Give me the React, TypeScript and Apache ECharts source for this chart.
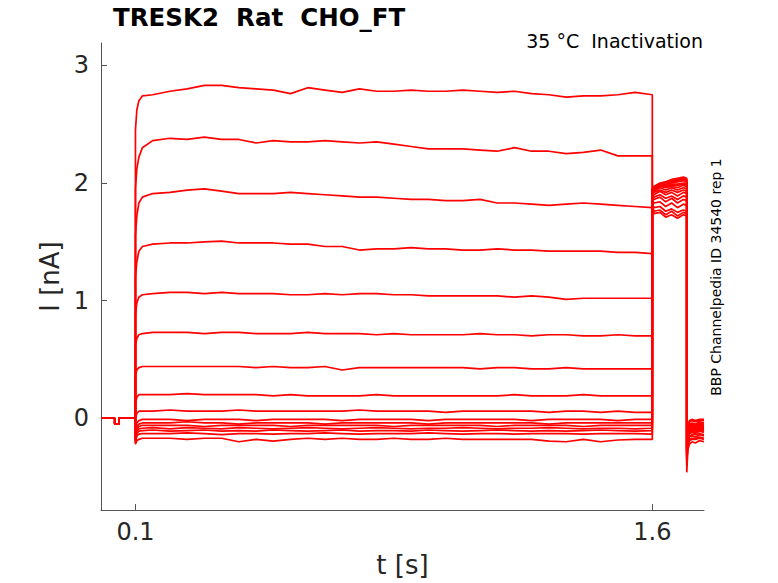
import React, { useEffect, useRef } from "react";
import * as echarts from "echarts";

// holding segment (shared by every sweep)
const HOLD_T = [0, 0.04, 0.04, 0.052, 0.052, 0.1];
const HOLD_I = [0, 0, -0.05, -0.05, 0, 0];

// prepulse segment, 0.1 s .. 1.6 s
const PRE_T = [
  0.1, 0.104, 0.11, 0.12, 0.15, 0.2, 0.25, 0.3, 0.35, 0.4, 0.45, 0.5, 0.55, 0.6, 0.65, 0.7, 0.75,
  0.8, 0.85, 0.9, 0.95, 1.0, 1.05, 1.1, 1.15, 1.2, 1.25, 1.3, 1.35, 1.4, 1.45, 1.5, 1.55, 1.6,
];
const PRE_I = [
  [2.45, 2.62, 2.7, 2.74,
    2.75, 2.78, 2.8, 2.83, 2.83, 2.81, 2.8, 2.79, 2.76, 2.81,
    2.79, 2.77, 2.8, 2.78, 2.78, 2.79, 2.78, 2.78, 2.79, 2.78,
    2.77, 2.78, 2.76, 2.75, 2.73, 2.74, 2.74, 2.75, 2.77, 2.75],
  [1.95, 2.12, 2.22, 2.3,
    2.36, 2.38, 2.37, 2.39, 2.37, 2.37, 2.34, 2.36, 2.35, 2.35,
    2.36, 2.35, 2.34, 2.35, 2.33, 2.31, 2.29, 2.29, 2.29, 2.28,
    2.27, 2.3, 2.27, 2.27, 2.25, 2.26, 2.28, 2.23, 2.23, 2.23],
  [1.55, 1.72, 1.83, 1.88,
    1.91, 1.92, 1.94, 1.95, 1.93, 1.91, 1.91, 1.91, 1.92, 1.91,
    1.9, 1.89, 1.88, 1.88, 1.87, 1.86, 1.86, 1.85, 1.85, 1.86,
    1.83, 1.83, 1.82, 1.81, 1.82, 1.83, 1.82, 1.81, 1.8, 1.79],
  [1.2, 1.33, 1.42, 1.46,
    1.48, 1.49, 1.49, 1.5, 1.505, 1.49, 1.49, 1.49, 1.48, 1.48,
    1.46, 1.46, 1.43, 1.44, 1.44, 1.45, 1.44, 1.44, 1.43, 1.43,
    1.44, 1.43, 1.43, 1.42, 1.42, 1.42, 1.42, 1.41, 1.41, 1.4],
  [0.88, 0.98, 1.03, 1.05,
    1.06, 1.07, 1.07, 1.06, 1.07, 1.06, 1.06, 1.06, 1.05, 1.05,
    1.06, 1.05, 1.06, 1.06, 1.05, 1.05, 1.04, 1.04, 1.04, 1.04,
    1.04, 1.03, 1.04, 1.03, 1.01, 1.02, 1.02, 1.02, 1.02, 1.02],
  [0.62, 0.68, 0.71, 0.72,
    0.73, 0.73, 0.73, 0.72, 0.73, 0.73, 0.72, 0.72, 0.72, 0.73,
    0.72, 0.72, 0.72, 0.71, 0.72, 0.71, 0.71, 0.71, 0.71, 0.72,
    0.71, 0.71, 0.7, 0.71, 0.71, 0.7, 0.7, 0.71, 0.7, 0.7],
  [0.36, 0.41, 0.43, 0.44,
    0.44, 0.44, 0.44, 0.44, 0.44, 0.44, 0.43, 0.44, 0.43, 0.43,
    0.44, 0.41, 0.43, 0.43, 0.43, 0.43, 0.43, 0.43, 0.43, 0.42,
    0.43, 0.43, 0.42, 0.42, 0.43, 0.42, 0.42, 0.42, 0.42, 0.42],
  [0.12, 0.18, 0.2, 0.2,
    0.2, 0.2, 0.21, 0.2, 0.2, 0.2, 0.2, 0.19, 0.2, 0.19,
    0.19, 0.19, 0.19, 0.2, 0.19, 0.19, 0.19, 0.19, 0.19, 0.19,
    0.19, 0.2, 0.19, 0.19, 0.19, 0.2, 0.19, 0.19, 0.19, 0.19],
  [0.0, 0.04, 0.06, 0.06,
    0.06, 0.07, 0.06, 0.06, 0.06, 0.07, 0.06, 0.06, 0.06, 0.06,
    0.06, 0.06, 0.07, 0.06, 0.06, 0.06, 0.06, 0.05, 0.06, 0.06,
    0.06, 0.06, 0.06, 0.05, 0.06, 0.06, 0.05, 0.06, 0.05, 0.05],
  [-0.14, -0.04, -0.02, -0.01,
    -0.01, -0.01, -0.02, -0.01, -0.01, -0.01, -0.02, -0.01, -0.01, -0.01,
    -0.01, -0.02, -0.01, -0.01, -0.01, -0.01, -0.02, -0.01, -0.01, -0.01,
    -0.01, -0.01, -0.02, -0.01, -0.01, -0.01, -0.01, -0.02, -0.01, -0.01],
  [-0.16, -0.07, -0.05, -0.04,
    -0.04, -0.04, -0.03, -0.04, -0.04, -0.05, -0.04, -0.04, -0.04, -0.04,
    -0.05, -0.04, -0.04, -0.04, -0.04, -0.04, -0.05, -0.04, -0.04, -0.04,
    -0.04, -0.04, -0.04, -0.05, -0.04, -0.04, -0.04, -0.04, -0.04, -0.04],
  [-0.18, -0.09, -0.07, -0.06,
    -0.06, -0.06, -0.06, -0.07, -0.06, -0.06, -0.06, -0.06, -0.07, -0.06,
    -0.06, -0.06, -0.06, -0.06, -0.07, -0.06, -0.06, -0.06, -0.06, -0.06,
    -0.07, -0.06, -0.06, -0.06, -0.06, -0.07, -0.06, -0.06, -0.06, -0.06],
  [-0.19, -0.11, -0.09, -0.085,
    -0.08, -0.09, -0.08, -0.085, -0.09, -0.08, -0.085, -0.09, -0.085, -0.08,
    -0.085, -0.09, -0.085, -0.08, -0.085, -0.09, -0.085, -0.085, -0.08, -0.085,
    -0.09, -0.085, -0.085, -0.08, -0.085, -0.09, -0.085, -0.085, -0.09, -0.085],
  [-0.2, -0.13, -0.11, -0.105,
    -0.1, -0.11, -0.105, -0.1, -0.11, -0.105, -0.11, -0.1, -0.105, -0.11,
    -0.105, -0.1, -0.11, -0.105, -0.105, -0.11, -0.1, -0.105, -0.11, -0.105,
    -0.1, -0.105, -0.11, -0.105, -0.11, -0.105, -0.1, -0.105, -0.11, -0.105],
  [-0.21, -0.15, -0.135, -0.13,
    -0.13, -0.13, -0.125, -0.13, -0.14, -0.13, -0.13, -0.135, -0.13, -0.13,
    -0.125, -0.13, -0.135, -0.13, -0.13, -0.13, -0.125, -0.13, -0.135, -0.13,
    -0.13, -0.135, -0.13, -0.13, -0.13, -0.135, -0.13, -0.13, -0.13, -0.135],
  [-0.22, -0.19, -0.18, -0.17,
    -0.17, -0.17, -0.18, -0.17, -0.17, -0.2, -0.18, -0.195, -0.18, -0.17,
    -0.18, -0.17, -0.18, -0.18, -0.17, -0.18, -0.18, -0.17, -0.18, -0.18,
    -0.18, -0.18, -0.18, -0.195, -0.2, -0.18, -0.2, -0.185, -0.18, -0.18],
];

// test pulse, 1.6 s .. 1.7 s
const TEST_T = [1.6, 1.605, 1.622, 1.639, 1.656, 1.673, 1.69, 1.7];
const TEST_I = [
  [1.78, 1.74, 1.75, 1.71, 1.73, 1.7, 1.73, 1.72],
  [1.8, 1.76, 1.77, 1.73, 1.76, 1.72, 1.75, 1.74],
  [1.82, 1.79, 1.8, 1.76, 1.78, 1.75, 1.77, 1.76],
  [1.85, 1.83, 1.84, 1.8, 1.83, 1.79, 1.82, 1.81],
  [1.87, 1.86, 1.88, 1.84, 1.87, 1.83, 1.86, 1.85],
  [1.89, 1.88, 1.9, 1.87, 1.89, 1.86, 1.89, 1.88],
  [1.9, 1.9, 1.93, 1.9, 1.92, 1.89, 1.92, 1.91],
  [1.91, 1.92, 1.94, 1.92, 1.94, 1.92, 1.94, 1.93],
  [1.92, 1.93, 1.96, 1.94, 1.96, 1.94, 1.96, 1.95],
  [1.92, 1.94, 1.97, 1.96, 1.97, 1.96, 1.98, 1.97],
  [1.93, 1.95, 1.97, 1.97, 1.98, 1.98, 1.99, 1.99],
  [1.93, 1.95, 1.98, 1.98, 1.99, 1.99, 2.0, 2.0],
  [1.94, 1.96, 1.98, 1.99, 2.0, 2.01, 2.02, 2.01],
  [1.94, 1.96, 1.99, 2.0, 2.01, 2.02, 2.03, 2.02],
  [1.95, 1.97, 1.99, 2.01, 2.02, 2.03, 2.04, 2.03],
  [1.95, 1.97, 2.0, 2.01, 2.03, 2.04, 2.05, 2.04],
];

// tail after the test pulse
const TAIL_T = [1.7, 1.703, 1.708, 1.715, 1.725, 1.737, 1.75];
const TAIL_I = [
  [-0.46, -0.27, -0.22, -0.2, -0.21, -0.19, -0.2],
  [-0.4, -0.24, -0.19, -0.18, -0.18, -0.17, -0.18],
  [-0.38, -0.22, -0.18, -0.17, -0.17, -0.16, -0.17],
  [-0.36, -0.2, -0.16, -0.15, -0.16, -0.14, -0.15],
  [-0.35, -0.19, -0.15, -0.14, -0.14, -0.13, -0.14],
  [-0.34, -0.17, -0.13, -0.12, -0.13, -0.11, -0.12],
  [-0.33, -0.16, -0.12, -0.11, -0.12, -0.1, -0.11],
  [-0.32, -0.15, -0.11, -0.1, -0.11, -0.09, -0.1],
  [-0.31, -0.14, -0.1, -0.09, -0.1, -0.08, -0.09],
  [-0.3, -0.13, -0.09, -0.08, -0.09, -0.07, -0.08],
  [-0.29, -0.12, -0.08, -0.07, -0.08, -0.06, -0.07],
  [-0.28, -0.11, -0.07, -0.06, -0.07, -0.05, -0.06],
  [-0.27, -0.1, -0.06, -0.05, -0.06, -0.04, -0.05],
  [-0.26, -0.09, -0.05, -0.04, -0.05, -0.03, -0.04],
  [-0.25, -0.07, -0.03, -0.02, -0.03, -0.02, -0.02],
  [-0.24, -0.06, -0.02, -0.01, -0.02, -0.01, -0.01],
];

const X_TICKS = [0.1, 1.6];
const Y_TICKS = [0, 1, 2, 3];

const FONT = "DejaVu Sans";

const pairs = (ts: number[], vs: number[]) =>
  ts.slice(0, Math.min(ts.length, vs.length)).map((t, j) => [t, vs[j]]);

const App: React.FC = () => {
  const chartRef = useRef<HTMLDivElement>(null);

  useEffect(() => {
    if (!chartRef.current) return;
    const chart = echarts.init(chartRef.current, undefined, { renderer: "svg" });

    const series = PRE_I.map((pre, i) => ({
      type: "line" as const,
      name: `sweep ${i + 1}`,
      showSymbol: false,
      silent: true,
      lineStyle: { color: "#ff0000", width: 1.7 },
      itemStyle: { color: "#ff0000" },
      data: [
        ...pairs(HOLD_T, HOLD_I),
        ...pairs(PRE_T, pre),
        ...pairs(TEST_T, TEST_I[i]),
        ...pairs(TAIL_T, TAIL_I[i]),
      ],
    }));

    chart.setOption({
      animation: false,
      grid: { left: 101, top: 43, width: 603, height: 468 },
      xAxis: {
        type: "value",
        min: 0,
        max: 1.75,
        name: "t [s]",
        nameLocation: "middle",
        nameGap: 42,
        nameTextStyle: { fontSize: 26, color: "#262626", fontFamily: FONT },
        axisLine: { show: true, onZero: false, lineStyle: { color: "#555", width: 1 } },
        axisTick: { show: true, inside: true, length: 6, customValues: X_TICKS, lineStyle: { color: "#555" } },
        axisLabel: { customValues: X_TICKS, fontSize: 24, color: "#262626", fontFamily: FONT, margin: 10 },
        splitLine: { show: false },
      },
      yAxis: {
        type: "value",
        min: -0.78,
        max: 3.19,
        name: "I [nA]",
        nameLocation: "middle",
        nameGap: 37,
        nameTextStyle: { fontSize: 26, color: "#262626", fontFamily: FONT },
        axisLine: { show: true, onZero: false, lineStyle: { color: "#555", width: 1 } },
        axisTick: { show: true, inside: true, length: 6, customValues: Y_TICKS, lineStyle: { color: "#555" } },
        axisLabel: { customValues: Y_TICKS, fontSize: 24, color: "#262626", fontFamily: FONT, margin: 12 },
        splitLine: { show: false },
      },
      graphic: [
        {
          type: "text",
          x: 113,
          y: 17,
          style: {
            text: "TRESK2  Rat  CHO_FT",
            fontSize: 24.5,
            fontWeight: "bold",
            fontFamily: FONT,
            fill: "#000",
            align: "left",
            verticalAlign: "middle",
          },
        },
        {
          type: "text",
          x: 703,
          y: 41,
          style: {
            text: "35 °C  Inactivation",
            fontSize: 19,
            fontFamily: FONT,
            fill: "#000",
            align: "right",
            verticalAlign: "middle",
          },
        },
        {
          type: "text",
          x: 716,
          y: 277,
          rotation: Math.PI / 2,
          style: {
            text: "BBP Channelpedia ID 34540 rep 1",
            fontSize: 14,
            fontFamily: FONT,
            fill: "#000",
            align: "center",
            verticalAlign: "middle",
          },
        },
      ],
      series,
    });

    const onResize = () => chart.resize();
    window.addEventListener("resize", onResize);
    return () => {
      window.removeEventListener("resize", onResize);
      chart.dispose();
    };
  }, []);

  return (
    <div
      ref={chartRef}
      style={{ position: "absolute", left: 0, top: 0, width: "778px", height: "583px", background: "#fff" }}
    ></div>
  );
};

export default App;
